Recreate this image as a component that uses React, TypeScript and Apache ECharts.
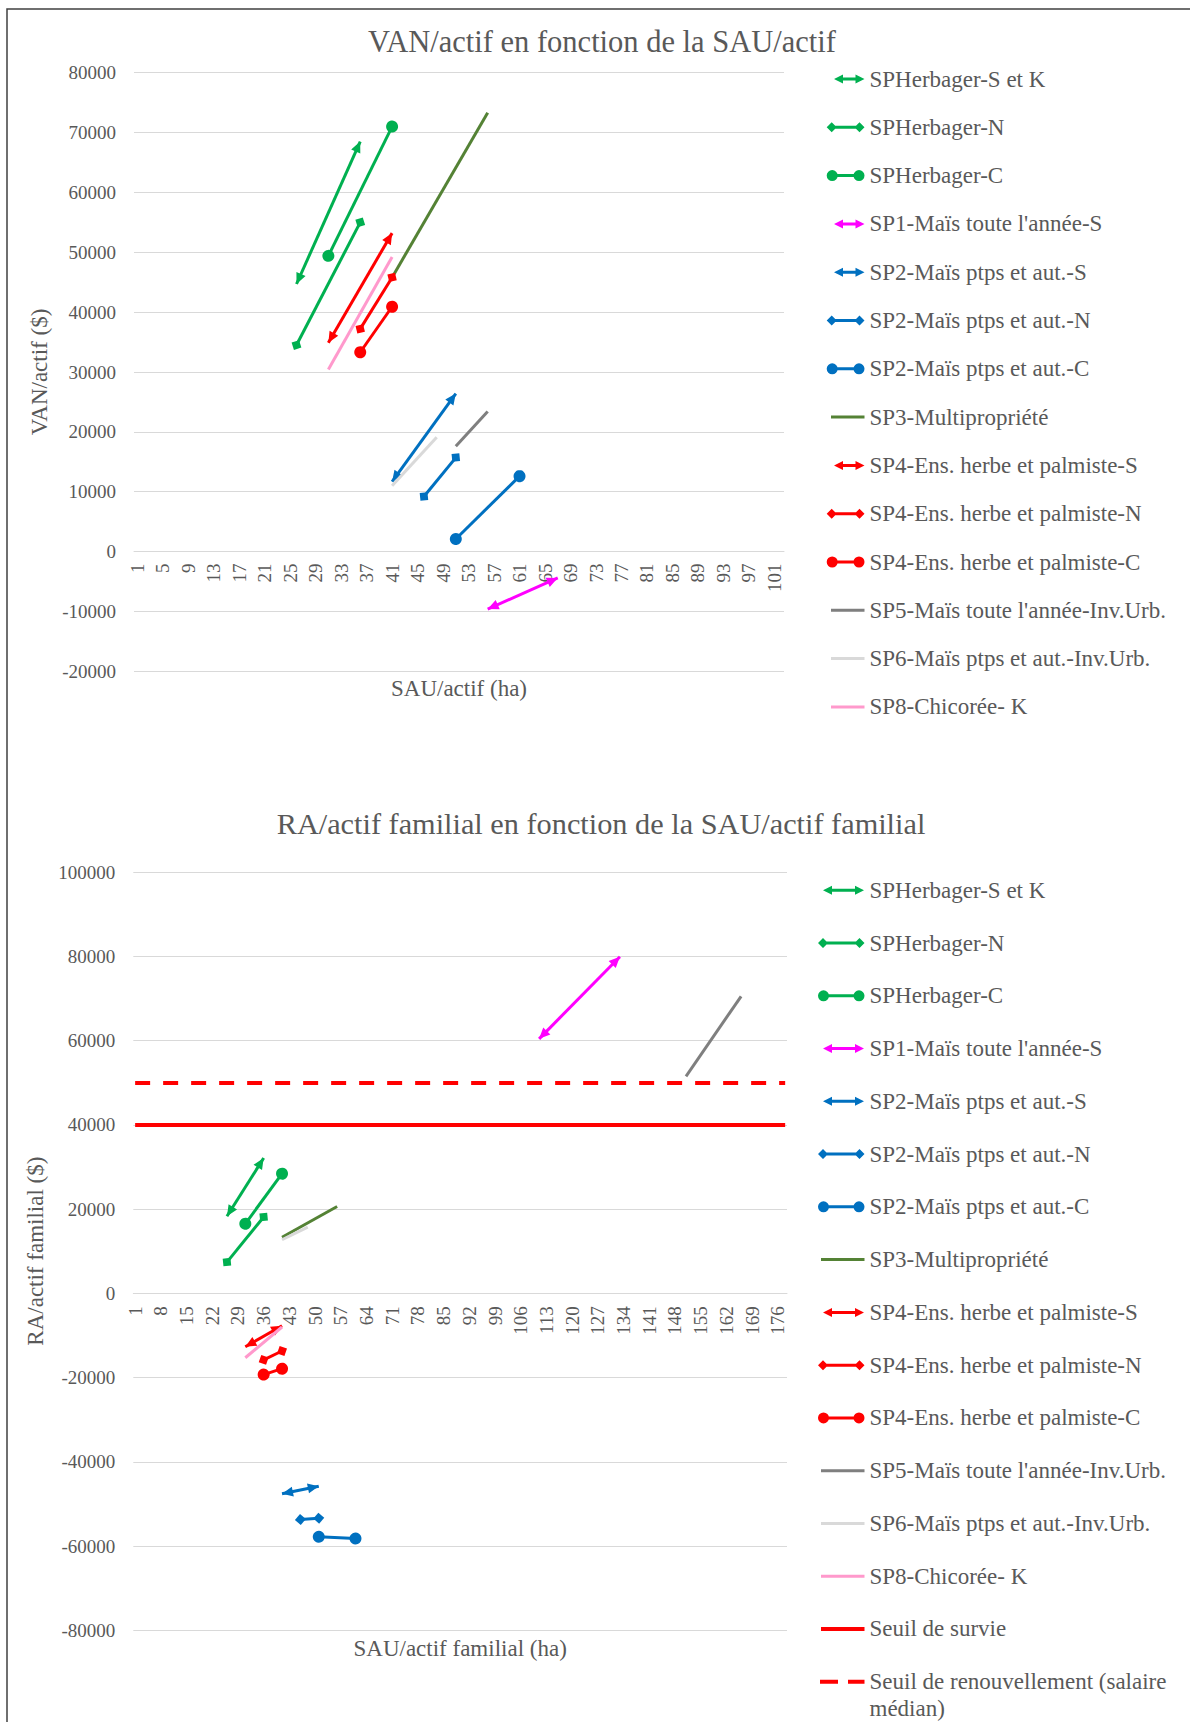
import React, { useEffect, useRef } from "react";
import * as echarts from "echarts";

const FONT = "'Liberation Serif', 'Times New Roman', serif";
const TXT = "#595959";
const GRID_C = "#D9D9D9";

// ---------- categories (SAU/actif, ha) ----------
const CAT1: string[] = Array.from({ length: 102 }, (_, i) => String(i + 1));
const CAT2: string[] = Array.from({ length: 178 }, (_, i) => String(i + 1));

// ---------- value axes ----------
const Y1_MIN = -20000, Y1_MAX = 80000, Y1_STEP = 10000;
const Y2_MIN = -80000, Y2_MAX = 100000, Y2_STEP = 20000;

// ---------- series names ----------
const NAMES = [
  "SPHerbager-S et K",
  "SPHerbager-N",
  "SPHerbager-C",
  "SP1-Maïs toute l'année-S",
  "SP2-Maïs ptps et aut.-S",
  "SP2-Maïs ptps et aut.-N",
  "SP2-Maïs ptps et aut.-C",
  "SP3-Multipropriété",
  "SP4-Ens. herbe et palmiste-S",
  "SP4-Ens. herbe et palmiste-N",
  "SP4-Ens. herbe et palmiste-C",
  "SP5-Maïs toute l'année-Inv.Urb.",
  "SP6-Maïs ptps et aut.-Inv.Urb.",
  "SP8-Chicorée- K",
];
const SEUIL_NAMES = ["Seuil de survie", "Seuil de renouvellement (salaire médian)"];

// ---------- chart 1 : [SAU/actif, VAN/actif] ----------
const van_herbS = [[26, 44700], [36, 68500]];
const van_herbN = [[26, 34500], [36, 55000]];
const van_herbC = [[31, 49400], [41, 71000]];
const van_sp1S = [[56, -9600], [67, -4400]];
const van_sp2S = [[41, 11700], [51, 26400]];
const van_sp2N = [[46, 9200], [51, 15700]];
const van_sp2C = [[51, 2100], [61, 12600]];
const van_sp3 = [[41, 45800], [56, 73300]];
const van_sp4S = [[31, 34900], [41, 53200]];
const van_sp4N = [[36, 37200], [41, 45800]];
const van_sp4C = [[36, 33300], [41, 40900]];
const van_sp5 = [[51, 17600], [56, 23400]];
const van_sp6 = [[41, 11000], [48, 19100]];
const van_sp8 = [[31, 30400], [41, 49200]];

// ---------- chart 2 : [SAU/actif familial, RA/actif familial] ----------
const ra_herbS = [[26, 18300], [36, 32100]];
const ra_herbN = [[26, 7400], [36, 18100]];
const ra_herbC = [[31, 16500], [41, 28400]];
const ra_sp1S = [[111, 60400], [133, 79900]];
const ra_sp2S = [[41, -47600], [51, -45800]];
const ra_sp2N = [[46, -53700], [51, -53400]];
const ra_sp2C = [[51, -57800], [61, -58200]];
const ra_sp3 = [[41, 13300], [56, 20600]];
const ra_sp4S = [[31, -12700], [41, -7700]];
const ra_sp4N = [[36, -15800], [41, -13700]];
const ra_sp4C = [[36, -19300], [41, -17900]];
const ra_sp5 = [[151, 51500], [166, 70500]];
const ra_sp6 = [[41, 12700], [48, 15700]];
const ra_sp8 = [[31, -15300], [41, -8000]];

const SEUIL_SURVIE = 40000;
const SEUIL_RENOUVELLEMENT = 50000;

const DATA1 = [van_herbS, van_herbN, van_herbC, van_sp1S, van_sp2S, van_sp2N, van_sp2C, van_sp3, van_sp4S, van_sp4N, van_sp4C, van_sp5, van_sp6, van_sp8];
const DATA2 = [ra_herbS, ra_herbN, ra_herbC, ra_sp1S, ra_sp2S, ra_sp2N, ra_sp2C, ra_sp3, ra_sp4S, ra_sp4N, ra_sp4C, ra_sp5, ra_sp6, ra_sp8];

// ---------- styles ----------
const GREEN = "#00B050", MAGENTA = "#FF00FF", BLUE = "#0070C0", OLIVE = "#548235",
  RED = "#FF0000", GRAY = "#7F7F7F", LGRAY = "#D9D9D9", PINK = "#FF99CC";
const COLORS = [GREEN, GREEN, GREEN, MAGENTA, BLUE, BLUE, BLUE, OLIVE, RED, RED, RED, GRAY, LGRAY, PINK];
const KINDS = ["arrow", "diamond", "circle", "arrow", "arrow", "diamond", "circle", "line", "arrow", "diamond", "circle", "line", "line", "line"];

const ARROW_SYMBOL =
  "path://M0,0 L5,11 L-5,11 Z M-11,-11 L-10.99,-11 L-11,-10.99 Z M11,11 L10.99,11 L11,10.99 Z";

function rectP(x1: number, x2: number, cy: number, t: number) {
  return `M${x1},${cy - t / 2} L${x2},${cy - t / 2} L${x2},${cy + t / 2} L${x1},${cy + t / 2} Z `;
}
function diamondP(cx: number, cy: number, h: number) {
  return `M${cx - h},${cy} L${cx},${cy - h} L${cx + h},${cy} L${cx},${cy + h} Z `;
}
function circleP(cx: number, cy: number, r: number) {
  return `M${cx - r},${cy} A${r},${r} 0 1 1 ${cx + r},${cy} A${r},${r} 0 1 1 ${cx - r},${cy} Z `;
}
function iconPath(kind: string, W: number, H: number, a: number, b: number) {
  const cy = H / 2;
  let p = `M0,0 L0.01,0 L0,0.01 Z M${W},${H} L${W - 0.01},${H} L${W},${H - 0.01} Z `;
  if (kind === "arrow") {
    p += `M${a},${cy} L${a + 9},${cy - 4.5} L${a + 9},${cy + 4.5} Z `;
    p += `M${b},${cy} L${b - 9},${cy + 4.5} L${b - 9},${cy - 4.5} Z `;
    p += rectP(a + 8, b - 8, cy, 3);
  } else if (kind === "diamond") {
    p += rectP(a + 5, b - 5, cy, 3) + diamondP(a + 5, cy, 5) + diamondP(b - 5, cy, 5);
  } else if (kind === "circle") {
    p += rectP(a + 5.5, b - 5.5, cy, 3) + circleP(a + 5.5, cy, 5.5) + circleP(b - 5.5, cy, 5.5);
  } else if (kind === "line") {
    p += rectP(a, b, cy, 3);
  } else if (kind === "thick") {
    p += rectP(a, b, cy, 4);
  } else if (kind === "dash") {
    p += rectP(a, a + 18, cy, 4) + rectP(a + 28, b, cy, 4);
  }
  return "path://" + p;
}

function mkSeries(name: string, kind: string, color: string, pts: number[][], idx: number) {
  const sym = kind === "arrow" ? ARROW_SYMBOL : kind === "diamond" ? "diamond" : kind === "circle" ? "circle" : "none";
  const size = kind === "arrow" ? 22 : kind === "diamond" ? 11 : 12;
  return {
    type: "lines",
    name,
    coordinateSystem: "cartesian2d",
    xAxisIndex: idx,
    yAxisIndex: idx,
    symbol: [sym, sym],
    symbolSize: size,
    silent: true,
    lineStyle: { color, width: 3, opacity: 1, curveness: 0 },
    data: [{ coords: pts.map(([x, y]) => [x - 1, y]) }],
  };
}

const L1 = { W: 42, H: 14 };
const L2 = { W: 48, H: 14 };
function legendIcon1(kind: string) {
  if (kind === "arrow") return iconPath(kind, L1.W, L1.H, 11.5, 42);
  if (kind === "diamond" || kind === "circle") return iconPath(kind, L1.W, L1.H, 4.2, 42);
  return iconPath(kind, L1.W, L1.H, 8.5, 42);
}
function legendIcon2(kind: string) {
  if (kind === "arrow") return iconPath(kind, L2.W, L2.H, 6.5, 47.5);
  if (kind === "diamond" || kind === "circle") return iconPath(kind, L2.W, L2.H, 1.5, 48);
  if (kind === "dash") return iconPath(kind, L2.W, L2.H, 3.5, 48);
  return iconPath(kind, L2.W, L2.H, 4.5, 48);
}

const axisNameStyle = { fontFamily: FONT, fontSize: 23, color: TXT };
const legendText = { fontFamily: FONT, fontSize: 23, color: TXT, lineHeight: 27 };

// grid geometry (px)
const G1 = { left: 134, top: 72.7, width: 650, height: 598.6 };
const G2 = { left: 133.3, top: 872, width: 653.7, height: 758.3 };

function buildOption() {
  const series: any[] = [];
  NAMES.forEach((n, i) => series.push(mkSeries(n, KINDS[i], COLORS[i], DATA1[i], 0)));
  NAMES.forEach((n, i) => series.push(mkSeries(n, KINDS[i], COLORS[i], DATA2[i], 1)));
  series.push({
    type: "lines", name: SEUIL_NAMES[0], coordinateSystem: "cartesian2d", xAxisIndex: 1, yAxisIndex: 1,
    symbol: ["none", "none"], silent: true,
    lineStyle: { color: RED, width: 4, opacity: 1 },
    data: [{ coords: [[0, SEUIL_SURVIE], [CAT2.length - 1, SEUIL_SURVIE]] }],
  });
  series.push({
    type: "lines", name: SEUIL_NAMES[1], coordinateSystem: "cartesian2d", xAxisIndex: 1, yAxisIndex: 1,
    symbol: ["none", "none"], silent: true,
    lineStyle: { color: RED, width: 4, opacity: 1, type: [15, 13] },
    data: [{ coords: [[0, SEUIL_RENOUVELLEMENT], [CAT2.length - 1, SEUIL_RENOUVELLEMENT]] }],
  });

  // the category axis crosses the value axis at 0: offset from the grid bottom to the zero line
  const zeroOffset = (g: { height: number }, min: number, max: number) => -g.height * (0 - min) / (max - min);

  const xAxisCommon = (data: string[], interval: number, name: string, nameGap: number, grid: number, margin: number, offset: number) => ({
    gridIndex: grid,
    type: "category",
    data,
    boundaryGap: true,
    offset,
    axisTick: { show: false },
    axisLine: { show: true, onZero: false, lineStyle: { color: GRID_C, width: 1 } },
    axisLabel: { interval, rotate: 90, fontFamily: FONT, fontSize: 19, color: TXT, margin },
    splitLine: { show: false },
    name, nameLocation: "middle", nameGap, nameTextStyle: axisNameStyle,
  });
  const yAxisCommon = (min: number, max: number, step: number, name: string, nameGap: number, grid: number) => ({
    gridIndex: grid,
    type: "value",
    min, max, interval: step,
    axisLine: { show: false },
    axisTick: { show: false },
    splitLine: { show: true, lineStyle: { color: GRID_C, width: 1 } },
    axisLabel: { formatter: (v: number) => String(v), fontFamily: FONT, fontSize: 19, color: TXT, margin: 18 },
    name, nameLocation: "middle", nameGap, nameTextStyle: axisNameStyle,
  });

  return {
    animation: false,
    backgroundColor: "#ffffff",
    title: [
      { text: "VAN/actif en fonction de la SAU/actif", left: 597, top: 21, textAlign: "center",
        textStyle: { fontFamily: FONT, fontSize: 30.5, fontWeight: "normal", color: TXT } },
      { text: "RA/actif familial en fonction de la SAU/actif familial", left: 596, top: 804, textAlign: "center",
        textStyle: { fontFamily: FONT, fontSize: 30.3, fontWeight: "normal", color: TXT } },
    ],
    grid: [
      { ...G1, containLabel: false, outerBoundsMode: "none" },
      { ...G2, containLabel: false, outerBoundsMode: "none" },
    ],
    xAxis: [
      xAxisCommon(CAT1, 3, "SAU/actif (ha)", 125, 0, 12, zeroOffset(G1, Y1_MIN, Y1_MAX)),
      xAxisCommon(CAT2, 6, "SAU/actif familial (ha)", 344, 1, 13, zeroOffset(G2, Y2_MIN, Y2_MAX)),
    ],
    yAxis: [
      yAxisCommon(Y1_MIN, Y1_MAX, Y1_STEP, "VAN/actif ($)", 77, 0),
      yAxisCommon(Y2_MIN, Y2_MAX, Y2_STEP, "RA/actif familial ($)", 79, 1),
    ],
    legend: [
      {
        orient: "vertical", left: 822.5, top: 65.5, padding: 0,
        itemWidth: L1.W, itemHeight: L1.H, itemGap: 21.3, selectedMode: false,
        textStyle: legendText, itemStyle: { borderWidth: 0 },
        data: NAMES.map((n, i) => ({ name: n, icon: legendIcon1(KINDS[i]), itemStyle: { color: COLORS[i], borderWidth: 0 } })),
      },
      {
        orient: "vertical", left: 816.5, top: 876.8, padding: 0,
        itemWidth: L2.W, itemHeight: L2.H, itemGap: 25.76, selectedMode: false,
        textStyle: legendText, itemStyle: { borderWidth: 0 },
        data: [
          ...NAMES.map((n, i) => ({ name: n, icon: legendIcon2(KINDS[i]), itemStyle: { color: COLORS[i], borderWidth: 0 } })),
          { name: SEUIL_NAMES[0], icon: legendIcon2("thick"), itemStyle: { color: RED, borderWidth: 0 } },
        ],
      },
      {
        orient: "vertical", left: 816.5, top: 1641.3, padding: 0,
        itemWidth: L2.W, itemHeight: L2.H, selectedMode: false,
        textStyle: legendText, itemStyle: { borderWidth: 0 },
        formatter: () => "\nSeuil de renouvellement (salaire\nmédian)",
        data: [{ name: SEUIL_NAMES[1], icon: legendIcon2("dash"), itemStyle: { color: RED, borderWidth: 0 } }],
      },
    ],
    graphic: [
      {
        type: "polyline",
        silent: true,
        shape: { points: [[7, 1722], [7, 9], [1190, 9]] },
        style: { stroke: "#404040", lineWidth: 1.5, fill: "none" },
      },
    ],
    series,
  };
}

export default function App() {
  const ref = useRef<HTMLDivElement>(null);
  useEffect(() => {
    if (!ref.current) return;
    const chart = echarts.init(ref.current, undefined, { renderer: "svg" });
    chart.setOption(buildOption() as any);
    return () => chart.dispose();
  }, []);
  return (
    <div
      ref={ref}
      style={{ position: "absolute", left: 0, top: 0, width: 1190, height: 1722, background: "#fff" }}
    />
  );
}
